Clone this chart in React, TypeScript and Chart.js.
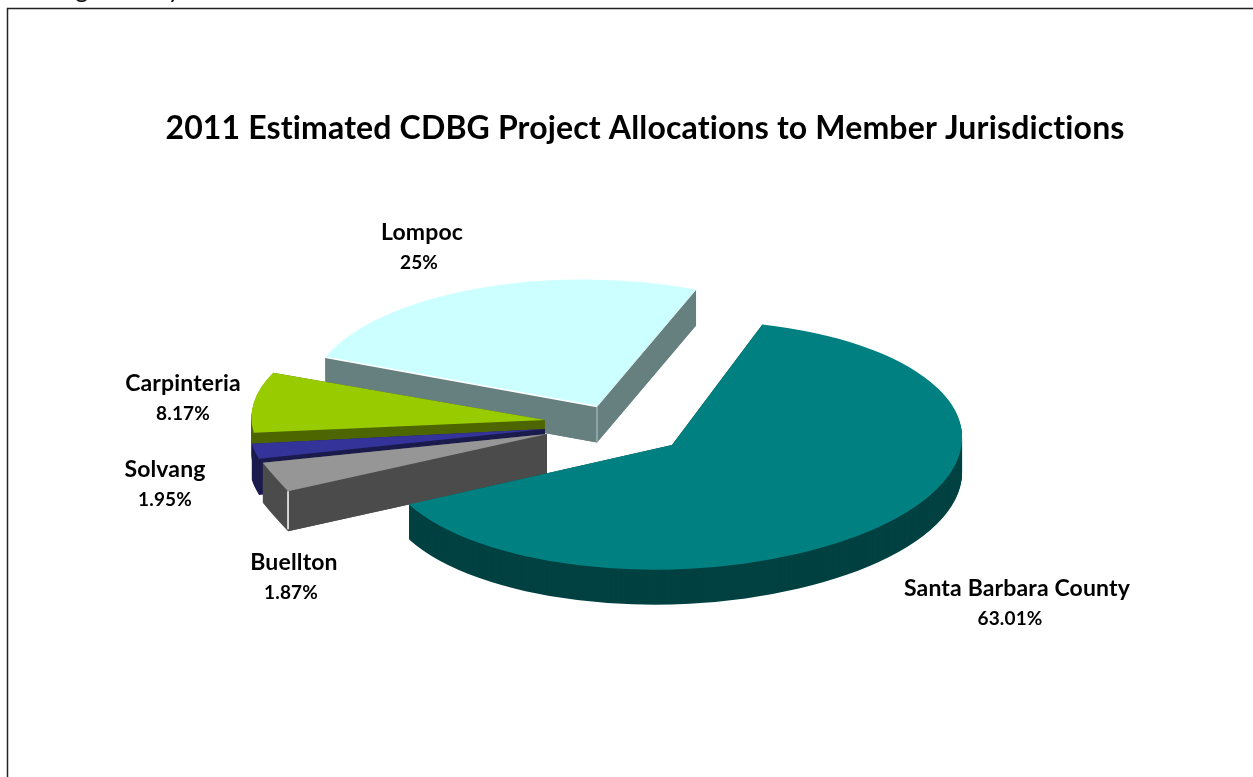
import React, { useEffect, useRef } from "react";
import { Chart, registerables } from "chart.js";

Chart.register(...registerables);

const categories = ["Santa Barbara County", "Buellton", "Solvang", "Carpinteria", "Lompoc"];
const shares = [63.01, 1.87, 1.95, 8.17, 25];
const topColors = ["#008080", "#969696", "#333399", "#99CC00", "#CCFFFF"];
const sideColors = ["#004040", "#4B4B4B", "#1A1A4D", "#4D6600", "#668080"];
const titleText = "2011 Estimated CDBG Project Allocations to Member Jurisdictions";
const headerText = "Budget Study";

const FONT = "Lato, sans-serif";
const PIE = { x: 620, y: 428, radius: 293, firstAngle: 17 };

// Thickness of each slice's side wall, in canvas pixels.
const sliceDepth = [35, 40, 36, 36, 36];

// How far each slice is pulled out of the pie, in canvas pixels.
const explodeX = [52, -73, -75, -75, -23];
const explodeY = [17, 6, 1, -8, -21.5];

// Per-slice projection onto the tilted plane, standing in for camera perspective:
// [xFromX, yFromX, xFromY, yFromY] arguments for the canvas transform.
const projection = [
  [0.99, -0.017, -0.02, 0.425],
  [1.14, 0.186, 0.316, 0.821],
  [1.007, 0.0414, -0.08, 0.423],
  [0.998, 0.0444, -0.0896, 0.405],
  [0.986, 0.0438, -0.052, 0.431],
];

// Label centre points, one per slice, in canvas pixels.
const labelPlacement = [
  { x: 1017, y: 589 },
  { x: 294, y: 563 },
  { x: 165, y: 470 },
  { x: 183, y: 384 },
  { x: 422, y: 233 },
];
const percentNudgeX = [-7, -3, 0, 0, -3];

// Where a point given in the arc's own polar terms lands on the canvas.
function project(i: number, angle: number, r: number) {
  const [a, b, c, d] = projection[i];
  const px = Math.cos(angle) * r;
  const py = Math.sin(angle) * r;
  return { x: PIE.x + explodeX[i] + a * px + c * py, y: PIE.y + explodeY[i] + b * px + d * py };
}

function strokeLine(ctx: any, from: any, to: any, color: string, width: number) {
  ctx.strokeStyle = color;
  ctx.lineWidth = width;
  ctx.beginPath();
  ctx.moveTo(from.x, from.y);
  ctx.lineTo(to.x, to.y);
  ctx.stroke();
}

// Flat wall of a radial cut, running from the slice's tip out to its rim.
function fillCutWall(ctx: any, i: number, arc: any, angle: number, depth: number) {
  const apex = project(i, angle, 0);
  const rim = project(i, angle, arc.outerRadius);
  ctx.fillStyle = sideColors[i];
  ctx.beginPath();
  ctx.moveTo(apex.x, apex.y);
  ctx.lineTo(rim.x, rim.y);
  ctx.lineTo(rim.x, rim.y + depth);
  ctx.lineTo(apex.x, apex.y + depth);
  ctx.closePath();
  ctx.fill();
}

const pie3d = {
  id: "pie3d",
  beforeDraw(chart: any) {
    const { ctx } = chart;
    // A tiny tracking value keeps the browser from forming "ti" ligatures.
    ctx.letterSpacing = "0.15px";
    ctx.save();
    ctx.strokeStyle = "#222222";
    ctx.lineWidth = 1.5;
    ctx.strokeRect(7.5, 8.5, 1400, 900);
    ctx.fillStyle = "#111111";
    ctx.font = `25px ${FONT}`;
    ctx.textBaseline = "alphabetic";
    ctx.fillText(headerText, 31, -2);
    ctx.restore();
  },
  beforeDatasetDraw(chart: any, args: any) {
    const { ctx } = chart;
    const arcs = args.meta.data;
    ctx.save();
    // Painted front to back underneath what is already there, so stacked wall
    // layers never blend their soft edges over one another.
    ctx.globalCompositeOperation = "destination-over";
    for (let i = 0; i < arcs.length; i++) {
      const arc = arcs[i];
      const [a, b, c, d] = projection[i];
      const depth = sliceDepth[i];
      const paint = (drop: number, color: string) => {
        ctx.save();
        ctx.translate(PIE.x + explodeX[i], PIE.y + explodeY[i] + drop);
        ctx.transform(a, b, c, d, 0, 0);
        ctx.translate(-arc.x, -arc.y);
        const resolved = arc.options;
        arc.options = { ...resolved, backgroundColor: color, borderWidth: 0 };
        arc.draw(ctx);
        arc.options = resolved;
        ctx.restore();
      };
      const apex = project(i, arc.startAngle, 0);

      // Pale highlights along the cut faces of the two slices that show them.
      if (categories[i] === "Lompoc") {
        strokeLine(ctx, apex, project(i, arc.startAngle, arc.outerRadius), "#FFFFFF", 1.5);
        strokeLine(ctx, apex, project(i, arc.endAngle, arc.outerRadius), "#E0F0F0", 1);
        strokeLine(ctx, apex, { x: apex.x, y: apex.y + depth }, "#B8C8C8", 1);
      }
      if (categories[i] === "Buellton") {
        const rim = project(i, arc.startAngle, arc.outerRadius);
        strokeLine(ctx, rim, { x: rim.x, y: rim.y + depth - 2 }, "#FFFFFF", 1.5);
      }

      paint(0, topColors[i]);
      fillCutWall(ctx, i, arc, arc.startAngle, depth);
      fillCutWall(ctx, i, arc, arc.endAngle, depth);
      for (let drop = 1; drop <= depth; drop++) paint(drop, sideColors[i]);
    }
    ctx.restore();
    return false;
  },
  afterDatasetsDraw(chart: any) {
    const { ctx } = chart;
    ctx.save();
    ctx.fillStyle = "#000000";
    ctx.textAlign = "center";
    ctx.textBaseline = "middle";
    categories.forEach((name, i) => {
      const p = labelPlacement[i];
      ctx.font = `bold 23px ${FONT}`;
      ctx.fillText(name, p.x, p.y);
      ctx.font = `bold 19px ${FONT}`;
      ctx.fillText(`${shares[i]}%`, p.x + percentNudgeX[i], p.y + 30);
    });
    ctx.restore();
  },
};

export default function App() {
  const ref = useRef<HTMLCanvasElement | null>(null);
  useEffect(() => {
    document.body.style.margin = "0";
    document.body.style.overflow = "hidden";
    const chart = new Chart(ref.current as HTMLCanvasElement, {
      type: "pie",
      data: {
        labels: categories,
        datasets: [{ data: shares, backgroundColor: topColors, borderWidth: 0 }],
      },
      options: {
        responsive: false,
        animation: false,
        rotation: PIE.firstAngle,
        radius: PIE.radius,
        layout: { padding: { left: 37 } },
        plugins: {
          legend: { display: false },
          tooltip: { enabled: false },
          title: {
            display: true,
            text: titleText,
            color: "#000000",
            font: { family: FONT, size: 32, weight: "bold" },
            padding: { top: 109, bottom: 10 },
          },
        },
      },
      plugins: [pie3d],
    });
    return () => chart.destroy();
  }, []);
  return <canvas ref={ref} width={1253} height={777} style={{ display: "block", background: "#ffffff" }} />;
}
